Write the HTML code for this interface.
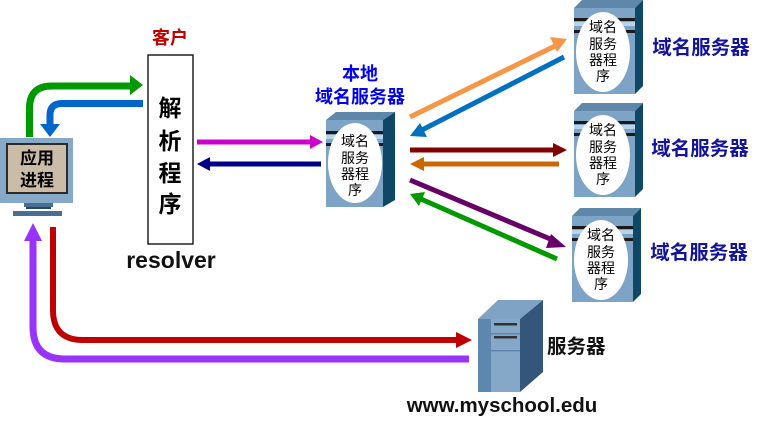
<!DOCTYPE html>
<html><head><meta charset="utf-8"><style>
html,body{margin:0;padding:0;background:#fff;}
svg{display:block;}
text{font-family:"Liberation Sans","Noto Sans CJK SC",sans-serif;font-weight:bold;}
</style></head><body>
<svg width="765" height="423" viewBox="0 0 765 423" xmlns="http://www.w3.org/2000/svg">
<defs>
<g id="srv">
  <polygon points="0,8 8,0 69,0 61,8" fill="#5f87aa"/>
  <polygon points="61,8 69,0 69,86 61,94" fill="#0f4866"/>
  <rect x="0" y="8" width="61" height="86" fill="#7da4c6"/>
  <rect x="0" y="18" width="61" height="3" fill="#1a1a1a"/>
  <rect x="0" y="22" width="61" height="4" fill="#b8d4ea"/>
  <rect x="0" y="30" width="61" height="3" fill="#1a1a1a"/>
  <ellipse cx="29" cy="52" rx="27" ry="40" fill="#fff"/>
  <g font-size="14" text-anchor="middle" fill="#000">
    <text x="29" y="32" style="font-weight:normal">域名</text>
    <text x="29" y="49" style="font-weight:normal">服务</text>
    <text x="29" y="65" style="font-weight:normal">器程</text>
    <text x="29" y="81" style="font-weight:normal">序</text>
  </g>
</g>
</defs>

<!-- monitor -->
<rect x="0" y="138" width="73" height="65" fill="#87a9c8"/>
<rect x="6" y="143" width="62" height="51" fill="#2b2b2b"/>
<rect x="8" y="145" width="58" height="47" fill="#cbbca8"/>
<text x="37" y="164" font-size="17" text-anchor="middle">应用</text>
<text x="37" y="186" font-size="17" text-anchor="middle">进程</text>
<rect x="24" y="203" width="29" height="4" fill="#4a6e92"/>
<rect x="26" y="207" width="25" height="2" fill="#1d4a6c"/>
<rect x="13" y="211" width="49" height="5" fill="#4a6e92"/>

<!-- resolver box -->
<rect x="148" y="55" width="45" height="189" fill="#fff" stroke="#000" stroke-width="1.3"/>
<g font-size="23" text-anchor="middle">
<text x="170" y="116">解</text><text x="170" y="149">析</text><text x="170" y="181">程</text><text x="170" y="212">序</text>
</g>
<text x="170" y="44" font-size="18" fill="#c00000" text-anchor="middle">客户</text>
<text x="171" y="268" font-size="23" fill="#111" text-anchor="middle">resolver</text>

<!-- green and blue top arrows -->
<path d="M29.5,137 V108 Q29.5,86 52,86 H132" fill="none" stroke="#009900" stroke-width="7"/>
<polygon points="130,75 143,85 130,95" fill="#009900"/>
<path d="M143,103.5 H62 Q50,103.5 50,115 V125" fill="none" stroke="#0066cc" stroke-width="7"/>
<polygon points="40,124 60,124 50,137" fill="#0066cc"/>

<!-- magenta / navy -->
<line x1="197" y1="142" x2="312" y2="142" stroke="#cc00cc" stroke-width="5"/>
<polygon points="310,135 323,142 310,149" fill="#cc00cc"/>
<line x1="210" y1="164" x2="321" y2="164" stroke="#000088" stroke-width="5"/>
<polygon points="210,157 197,164 210,171" fill="#000088"/>

<!-- local server -->
<text x="360" y="80" font-size="18" fill="#0000ee" text-anchor="middle">本地</text>
<text x="360" y="103" font-size="18" fill="#0000ee" text-anchor="middle">域名服务器</text>
<g transform="translate(326,112)">
  <polygon points="0,8 10,0 69,0 57,8" fill="#5f87aa"/>
  <polygon points="57,8 69,0 69,88 57,95" fill="#0f4866"/>
  <rect x="0" y="8" width="57" height="87" fill="#7da4c6"/>
  <rect x="0" y="19" width="57" height="3" fill="#1a1a1a"/>
  <rect x="0" y="23" width="57" height="4" fill="#b8d4ea"/>
  <rect x="0" y="31" width="57" height="3" fill="#1a1a1a"/>
  <ellipse cx="29" cy="51" rx="27" ry="40" fill="#fff"/>
  <g font-size="14" text-anchor="middle">
    <text x="29" y="34" style="font-weight:normal">域名</text>
    <text x="29" y="51" style="font-weight:normal">服务</text>
    <text x="29" y="67" style="font-weight:normal">器程</text>
    <text x="29" y="83" style="font-weight:normal">序</text>
  </g>
</g>

<!-- right servers -->
<use href="#srv" x="574" y="0"/>
<use href="#srv" x="574" y="103"/>
<use href="#srv" x="572" y="208"/>
<g font-size="19.5" fill="#14149a" text-anchor="middle">
<text x="701" y="54">域名服务器</text>
<text x="700" y="155">域名服务器</text>
<text x="699" y="259">域名服务器</text>
</g>

<!-- right arrows -->
<line x1="410" y1="117" x2="557" y2="45" stroke="#f79646" stroke-width="5"/>
<polygon points="567,39 550,37 557,52" fill="#f79646"/>
<line x1="564" y1="57" x2="420" y2="131" stroke="#0070c0" stroke-width="5"/>
<polygon points="410,136 427,137 420,123" fill="#0070c0"/>
<line x1="410" y1="150" x2="555" y2="150" stroke="#800000" stroke-width="5"/>
<polygon points="553,143 567,150 553,157" fill="#800000"/>
<line x1="559" y1="164" x2="422" y2="164" stroke="#cc6600" stroke-width="5"/>
<polygon points="424,157 410,164 424,171" fill="#cc6600"/>
<line x1="410" y1="180" x2="555" y2="241" stroke="#660066" stroke-width="5"/>
<polygon points="566,247 551,234 546,248" fill="#660066"/>
<line x1="557" y1="259" x2="421" y2="199" stroke="#009900" stroke-width="5"/>
<polygon points="410,194 425,192 419,206" fill="#009900"/>

<!-- bottom arrows -->
<path d="M53,227 V310 Q53,340 83,340 H458" fill="none" stroke="#c00000" stroke-width="6"/>
<polygon points="456,332 472,340 456,348" fill="#c00000"/>
<path d="M469,359 H65 Q33,359 33,327 V238" fill="none" stroke="#9933ff" stroke-width="7"/>
<polygon points="24,241 42,241 33,223" fill="#9933ff"/>

<!-- web server tower -->
<polygon points="478,319 498,300 543,300 520,319" fill="#7fa3c4"/>
<polygon points="520,319 543,300 543,372 520,392" fill="#34567a"/>
<rect x="478" y="319" width="42" height="73" fill="#5d87ae"/>
<rect x="491" y="319" width="29" height="73" fill="#86a8c8"/>
<rect x="491" y="333" width="29" height="1.5" fill="#5d87ae"/>
<rect x="491" y="350" width="29" height="1.5" fill="#5d87ae"/>
<rect x="494" y="323" width="23" height="2.5" fill="#333"/>
<rect x="494" y="336" width="23" height="2.5" fill="#333"/>
<text x="547" y="353" font-size="19.5" fill="#111">服务器</text>
<text x="502" y="412" font-size="20.5" fill="#111" text-anchor="middle">www.myschool.edu</text>
</svg>
</body></html>
